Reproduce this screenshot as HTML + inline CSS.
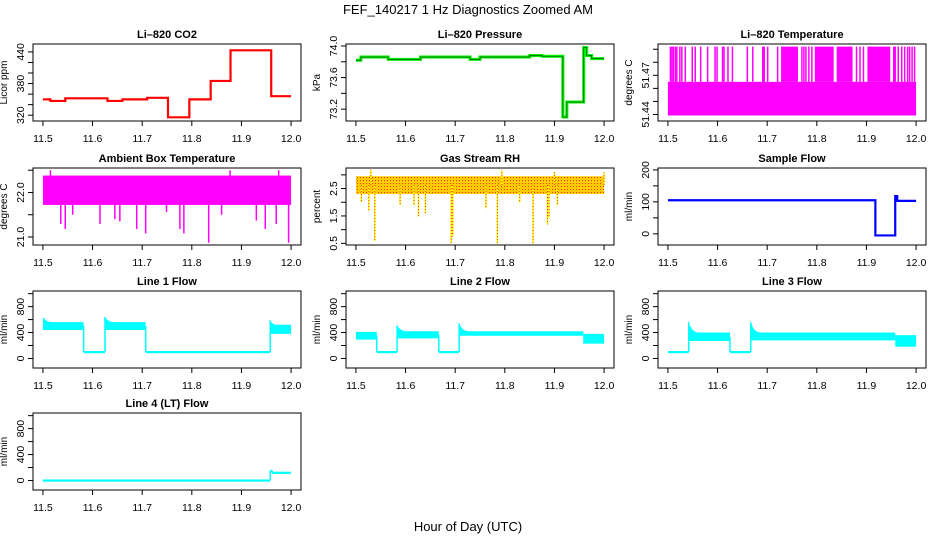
<!DOCTYPE html>
<html><head><meta charset="utf-8">
<style>
html,body{margin:0;padding:0;background:#fff;}
svg{display:block;font-family:"Liberation Sans",sans-serif;}
</style></head>
<body>
<svg id="chart" width="936" height="540" viewBox="0 0 936 540" xmlns="http://www.w3.org/2000/svg">
<defs>
<pattern id="rhpat" width="3" height="3" patternUnits="userSpaceOnUse">
<rect width="3" height="3" fill="#ffcc00"/><rect width="1" height="1" fill="#ff3000"/>
</pattern>
</defs>
<text x="468" y="14" font-size="13" text-anchor="middle">FEF_140217  1 Hz Diagnostics Zoomed AM</text>
<text x="468" y="531" font-size="13" text-anchor="middle">Hour of Day (UTC)</text>
</svg>
<script>
// ---- data ----
const xTicks = [11.5, 11.6, 11.7, 11.8, 11.9, 12.0];
const xTickLabels = ["11.5", "11.6", "11.7", "11.8", "11.9", "12.0"];
// CO2 step series
const co2X = [11.5, 11.515, 11.545, 11.63, 11.66, 11.71, 11.752, 11.795, 11.838, 11.878, 11.96, 12.0];
const co2Y = [350, 347, 352, 347, 350, 353, 316, 350, 385, 443, 356, 356];
// Pressure step series
const presX = [11.5, 11.51, 11.565, 11.63, 11.73, 11.75, 11.85, 11.875, 11.917, 11.925, 11.959, 11.965, 11.975, 12.0];
const presY = [73.82, 73.86, 73.83, 73.86, 73.83, 73.86, 73.88, 73.87, 73.10, 73.29, 73.98, 73.88, 73.84, 73.84];
// Li-820 temperature
const ltLow = 51.44, ltMid = 51.465, ltHigh = 51.492;
const ltBlocks = [[11.728, 11.762], [11.796, 11.834], [11.840, 11.872], [11.902, 11.948]];
const ltSpikes = [11.505, 11.508, 11.511, 11.515, 11.518, 11.524, 11.528, 11.535, 11.549, 11.555, 11.566, 11.58, 11.595, 11.599, 11.61, 11.613, 11.621, 11.63, 11.66, 11.671, 11.691, 11.694, 11.701, 11.721, 11.77, 11.774, 11.778, 11.784, 11.79, 11.88, 11.887, 11.894, 11.955, 11.958, 11.964, 11.971, 11.977, 11.983, 11.987, 11.992, 11.997];
// Ambient box temperature
const ambBand = [21.72, 22.38];
const ambSpikeX = [11.536, 11.545, 11.56, 11.615, 11.645, 11.655, 11.689, 11.707, 11.749, 11.776, 11.784, 11.834, 11.86, 11.93, 11.948, 11.97, 11.995, 11.515, 11.877, 11.975];
const ambSpikeY = [21.29, 21.18, 21.5, 21.29, 21.4, 21.35, 21.18, 21.08, 21.56, 21.18, 21.08, 20.87, 21.5, 21.37, 21.18, 21.29, 20.87, 22.5, 22.5, 22.5];
// Gas stream RH
const rhBand = [2.3, 2.95];
const rhSpikeX = [11.511, 11.526, 11.538, 11.589, 11.617, 11.626, 11.64, 11.692, 11.695, 11.762, 11.785, 11.83, 11.857, 11.886, 11.889, 11.906, 11.53, 11.794, 11.9, 12.0];
const rhSpikeY = [2.0, 1.69, 0.59, 1.9, 1.88, 1.48, 1.59, 0.5, 0.75, 1.78, 0.5, 1.98, 0.5, 1.19, 1.44, 1.9, 3.19, 3.18, 3.1, 3.09];
// Sample flow
const sfX = [11.5, 11.918, 11.958, 11.962, 12.0];
const sfY = [105, -5, 118, 103, 103];
// Flow segments: start, end, low, high, peak
const line1Segs = [[11.5, 11.582, 440, 560, 640], [11.582, 11.625, 100, 100, 100], [11.625, 11.707, 440, 560, 640], [11.707, 11.958, 100, 100, 100], [11.958, 12.0, 380, 520, 590]];
const line2Segs = [[11.5, 11.542, 290, 410, 410], [11.542, 11.583, 100, 100, 100], [11.583, 11.667, 310, 420, 510], [11.667, 11.708, 100, 100, 100], [11.708, 11.958, 350, 420, 540], [11.958, 12.0, 230, 380, 380]];
const line3Segs = [[11.5, 11.542, 100, 100, 100], [11.542, 11.625, 270, 400, 560], [11.625, 11.667, 100, 100, 100], [11.667, 11.958, 280, 400, 560], [11.958, 12.0, 180, 360, 360]];
const line4Segs = [[11.5, 11.958, 0, 0, 0], [11.958, 11.962, 150, 150, 150], [11.962, 12.0, 120, 120, 120]];
const flowTicks = [0, 200, 400, 600, 800, 1000];
const flowLabels = ["0", "", "400", "", "800", ""];

const svg = document.getElementById('chart');
const NS = 'http://www.w3.org/2000/svg';
function mk(tag, attrs, parent) {
  const e = document.createElementNS(NS, tag);
  for (const k in attrs) e.setAttribute(k, attrs[k]);
  (parent || svg).appendChild(e);
  return e;
}
const colL = [33, 346, 658], rowT = [44, 168, 291, 413], W = 268, H = 77;

function panel(col, row, title, ylab, ydom, yt, ytl, name) {
  const L = colL[col], T = rowT[row];
  const g = mk('g', {});
  
  
  const xs = v => L + (v - 11.48) / 0.54 * W;
  const ys = v => T + H - (v - ydom[0]) / (ydom[1] - ydom[0]) * H;
  const t = mk('text', {x: L + W / 2, y: T - 6, 'font-size': 11, 'font-weight': 'bold', 'text-anchor': 'middle'}, g);
  t.textContent = title;
  
  
  const yl = mk('text', {x: 0, y: 0, 'font-size': 10, 'text-anchor': 'middle', transform: `translate(${L - 26},${T + H / 2}) rotate(-90)`}, g);
  yl.textContent = ylab;
  
  
  xTicks.forEach((v, i) => {
    mk('line', {x1: xs(v), x2: xs(v), y1: T + H, y2: T + H + 5, stroke: '#000'}, g);
    const tl = mk('text', {x: xs(v), y: T + H + 21, 'font-size': 10.5, 'text-anchor': 'middle'}, g);
    tl.textContent = xTickLabels[i];
    
    
  });
  yt.forEach((v, i) => {
    mk('line', {x1: L - 5, x2: L, y1: ys(v), y2: ys(v), stroke: '#000'}, g);
    if (ytl[i]) {
      const tl = mk('text', {x: 0, y: 0, 'font-size': 10.5, 'text-anchor': 'middle', transform: `translate(${L - 9},${ys(v)}) rotate(-90)`}, g);
      tl.textContent = ytl[i];
      
      
    }
  });
  const plot = mk('g', {}, g);
  
  
  const frame = mk('rect', {x: L, y: T, width: W, height: H, fill: 'none', stroke: '#000'}, g);
  
  
  return {xs, ys, g: plot};
}
function steps(p, X, Y, color, w) {
  let d = '';
  for (let i = 0; i < X.length - 1; i++) {
    d += (i ? 'L' : 'M') + p.xs(X[i]) + ',' + p.ys(Y[i]) + 'L' + p.xs(X[i + 1]) + ',' + p.ys(Y[i]);
  }
  const e = mk('path', {d, fill: 'none', stroke: color, 'stroke-width': w}, p.g);
  
  
}
function flowSegs(p, segs, color) {
  let prev = null;
  segs.forEach(s => {
    const [x0, x1, lo, hi, pk] = s;
    const a = p.xs(x0), b = p.xs(x1);
    if (prev !== null) {
      mk('line', {x1: a, x2: a, y1: p.ys(prev), y2: p.ys(pk), stroke: color, 'stroke-width': 1.5}, p.g);
    }
    let e;
    if (hi - lo < 1 && pk === hi) {
      e = mk('rect', {x: a, y: p.ys(hi) - 1, width: b - a, height: 2.2, fill: color}, p.g);
    } else {
      const dx = Math.min(10, (b - a) * 0.3);
      const d = `M${a},${p.ys(lo)}L${a},${p.ys(pk)}Q${a + dx * 0.3},${p.ys(hi)} ${a + dx},${p.ys(hi)}L${b},${p.ys(hi)}L${b},${p.ys(lo)}Z`;
      e = mk('path', {d, fill: color}, p.g);
    }
    
    
    prev = (lo + hi) / 2;
  });
}

// CO2
let p = panel(0, 0, 'Li\u2013820 CO2', 'Licor ppm', [309, 455], [320, 340, 360, 380, 400, 420, 440], ['320', '', '', '380', '', '', '440'], 'co2');
steps(p, co2X, co2Y, '#ff0000', 2.2);
// Pressure
p = panel(1, 0, 'Li\u2013820 Pressure', 'kPa', [73.05, 74.025], [73.2, 73.4, 73.6, 73.8, 74.0], ['73.2', '', '73.6', '', '74.0'], 'pressure');
steps(p, presX, presY, '#00ee00', 3);
steps(p, presX, presY, '#004400', 0.6);
// Li temp
p = panel(2, 0, 'Li\u2013820 Temperature', 'degrees C', [51.435, 51.494], [51.44, 51.45, 51.46, 51.47, 51.48, 51.49], ['51.44', '', '', '51.47', '', ''], 'li-temp');
{
  const base = mk('rect', {x: p.xs(11.5), y: p.ys(ltMid), width: p.xs(12.0) - p.xs(11.5), height: p.ys(ltLow) - p.ys(ltMid) + 1, fill: '#ff00ff'}, p.g);
  
  
  ltBlocks.forEach(b => {
    const e = mk('rect', {x: p.xs(b[0]), y: p.ys(ltHigh), width: p.xs(b[1]) - p.xs(b[0]), height: p.ys(ltMid) - p.ys(ltHigh), fill: '#ff00ff'}, p.g);
    
    
  });
  ltSpikes.forEach(v => {
    const e = mk('line', {x1: p.xs(v), x2: p.xs(v), y1: p.ys(ltHigh), y2: p.ys(ltMid), stroke: '#ff00ff', 'stroke-width': 1.5}, p.g);
    
    
  });
}
// Ambient
p = panel(0, 1, 'Ambient Box Temperature', 'degrees C', [20.82, 22.55], [21.0, 21.5, 22.0, 22.5], ['21.0', '', '22.0', ''], 'ambient');
{
  const e = mk('rect', {x: p.xs(11.5), y: p.ys(ambBand[1]), width: p.xs(12.0) - p.xs(11.5), height: p.ys(ambBand[0]) - p.ys(ambBand[1]), fill: '#ff00ff'}, p.g);
  
  
  ambSpikeX.forEach((v, i) => {
    const s = mk('line', {x1: p.xs(v), x2: p.xs(v), y1: p.ys((ambBand[0] + ambBand[1]) / 2), y2: p.ys(ambSpikeY[i]), stroke: '#ff00ff', 'stroke-width': 1.5}, p.g);
    
    
  });
}
// RH
p = panel(1, 1, 'Gas Stream RH', 'percent', [0.44, 3.25], [0.5, 1.0, 1.5, 2.0, 2.5, 3.0], ['0.5', '', '1.5', '', '2.5', ''], 'rh');
{
  const e = mk('rect', {x: p.xs(11.5), y: p.ys(rhBand[1]), width: p.xs(12.0) - p.xs(11.5), height: p.ys(rhBand[0]) - p.ys(rhBand[1]), fill: 'url(#rhpat)'}, p.g);
  
  
  rhSpikeX.forEach((v, i) => {
    const y0 = p.ys((rhBand[0] + rhBand[1]) / 2), y1 = p.ys(rhSpikeY[i]);
    const s = mk('line', {x1: p.xs(v), x2: p.xs(v), y1: y0, y2: y1, stroke: '#ffff00', 'stroke-width': 1.5}, p.g);
    
    
    mk('line', {x1: p.xs(v), x2: p.xs(v), y1: y0, y2: y1, stroke: '#ff2000', 'stroke-width': 1, 'stroke-dasharray': '1,2'}, p.g);
  });
}
// Sample flow
p = panel(2, 1, 'Sample Flow', 'ml/min', [-35, 206], [0, 50, 100, 150, 200], ['0', '', '100', '', '200'], 'sample-flow');
steps(p, sfX, sfY, '#0000ff', 2.2);
// Line flows
p = panel(0, 2, 'Line 1 Flow', 'ml/min', [-147, 1041], flowTicks, flowLabels, 'line1-flow');
flowSegs(p, line1Segs, '#00ffff');
p = panel(1, 2, 'Line 2 Flow', 'ml/min', [-147, 1041], flowTicks, flowLabels, 'line2-flow');
flowSegs(p, line2Segs, '#00ffff');
p = panel(2, 2, 'Line 3 Flow', 'ml/min', [-147, 1041], flowTicks, flowLabels, 'line3-flow');
flowSegs(p, line3Segs, '#00ffff');
p = panel(0, 3, 'Line 4 (LT) Flow', 'ml/min', [-147, 1041], flowTicks, flowLabels, 'line4-flow');
flowSegs(p, line4Segs, '#00ffff');
</script>
</body></html>
